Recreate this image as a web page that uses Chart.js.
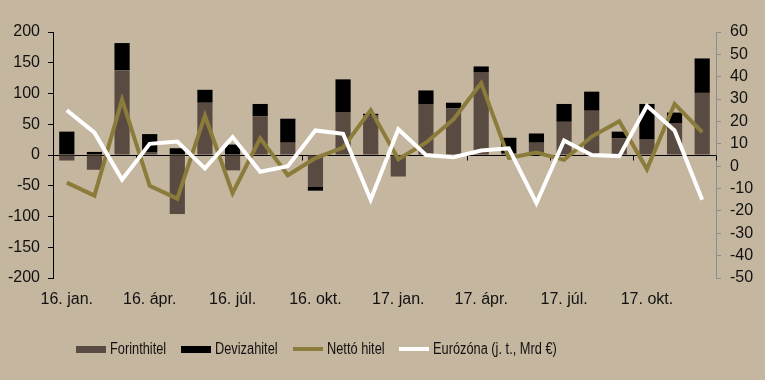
<!DOCTYPE html>
<html><head><meta charset="utf-8">
<script src="https://cdn.jsdelivr.net/npm/chart.js@4"></script>
<style>
html,body{margin:0;padding:0;background:#c5b69f;}
#wrap{position:relative;width:765px;height:380px;overflow:hidden;}
canvas{position:absolute;left:0;top:0;}
#legend{position:absolute;left:76px;top:340px;display:flex;align-items:center;font-size:16px;font-family:"Liberation Sans",Arial,sans-serif;color:#111;white-space:nowrap;line-height:18px;}
.item{display:flex;align-items:center;margin-right:15px;}
.sw{width:30px;margin-right:4px;}
.tx{display:inline-block;overflow:visible;}
.tx span{display:inline-block;transform-origin:0 50%;}
</style></head>
<body><div id="wrap"><canvas id="c" width="765" height="380"></canvas><div id="legend"></div></div>
<script>
const categories = ['16. jan.','16. febr.','16. márc.','16. ápr.','16. máj.','16. jún.','16. júl.','16. aug.','16. szept.','16. okt.','16. nov.','16. dec.',
                    '17. jan.','17. febr.','17. márc.','17. ápr.','17. máj.','17. jún.','17. júl.','17. aug.','17. szept.','17. okt.','17. nov.','17. dec.'];
const forinthitel = [-9, -24, 138, 4, -96, 85, -25, 63, 20, -52, 69, 65, -35, 82, 76, 134, 3, 20, 54, 72, 27, 25, 52, 101];
const devizahitel = [38, 5, 44, 30, 11, 21, 17, 20, 39, -6, 54, 2, 0, 23, 9, 10, 25, 15, 29, 31, 11, 58, 17, 56];
const nettoHitel  = [-45, -66, 90, -50, -71, 64, -62, 27, -33, -5, 12, 73, -7, 20, 58, 117, -5, 4, -8, 30, 55, -23, 83, 37];
const eurozona    = [25, 15, -6, 10, 11, -1, 13, -2.5, 0, 16, 14.5, -15, 16.5, 5, 4, 7, 8, -16.5, 11.5, 5, 4.5, 27, 16, -15];
const leftTicks = {min:-200, max:200, step:50};
const rightTicks = {min:-50, max:60, step:10};

const seriesNames = ['Forinthitel','Devizahitel','Nettó hitel','Eurózóna (j. t., Mrd €)'];
const colors = ['#5a4b42','#000000','#8b7c3b','#ffffff'];

Chart.defaults.font.family = '"Liberation Sans", Arial, sans-serif';
Chart.defaults.font.size = 16;
Chart.defaults.color = '#111';

const zeroLine = {
  id:'zeroLine',
  beforeDatasetsDraw(chart){
    const {ctx, chartArea, scales:{x, y}} = chart;
    const y0 = Math.round(y.getPixelForValue(0)) + 0.5;
    ctx.save();
    ctx.strokeStyle = '#000'; ctx.lineWidth = 1;
    ctx.beginPath();
    ctx.moveTo(chartArea.left, y0); ctx.lineTo(chartArea.right, y0);
    for (let i = 0; i <= categories.length; i += 3) {
      const px = Math.round(x.getPixelForValue(i - 0.5)) + 0.5;
      ctx.moveTo(px, y0); ctx.lineTo(px, y0 + 5);
    }
    ctx.stroke();
    ctx.restore();
  }
};

new Chart(document.getElementById('c'), {
  type:'bar',
  data:{
    labels: categories,
    datasets:[
      {type:'bar', label:seriesNames[0], data:forinthitel, backgroundColor:colors[0], stack:'s', yAxisID:'y', order:2, barPercentage:0.55, categoryPercentage:1},
      {type:'bar', label:seriesNames[1], data:devizahitel, backgroundColor:colors[1], stack:'s', yAxisID:'y', order:2, barPercentage:0.55, categoryPercentage:1},
      {type:'line', label:seriesNames[2], data:nettoHitel, borderColor:colors[2], backgroundColor:colors[2], borderWidth:4, pointRadius:0, tension:0, stack:'n', yAxisID:'y', order:1},
      {type:'line', label:seriesNames[3], data:eurozona, borderColor:colors[3], backgroundColor:colors[3], borderWidth:4, pointRadius:0, tension:0, yAxisID:'y2', order:0}
    ]
  },
  options:{
    responsive:false, animation:false,
    layout:{padding:{top:32, left:0, right:0, bottom:0}},
    plugins:{legend:{display:false}, tooltip:{enabled:false}},
    scales:{
      x:{stacked:true, grid:{display:false, drawTicks:false}, border:{display:false},
         ticks:{autoSkip:false, maxRotation:0, minRotation:0, padding:12,
                callback:(v,i)=> i % 3 === 0 ? categories[i] : ''},
         afterFit:s=>{s.height = 102;}},
      y:{stacked:true, position:'left', min:leftTicks.min, max:leftTicks.max,
         ticks:{stepSize:leftTicks.step, padding:8, color:'#111'},
         grid:{drawOnChartArea:false, tickLength:5, color:'#000'},
         border:{color:'#000'},
         afterFit:s=>{s.width = 53;}},
      y2:{position:'right', min:rightTicks.min, max:rightTicks.max,
         ticks:{stepSize:rightTicks.step, padding:9, color:'#111'},
         grid:{drawOnChartArea:false, tickLength:5, color:'#8c8c8c'},
         border:{color:'#8c8c8c'},
         afterFit:s=>{s.width = 49;}}
    }
  },
  plugins:[zeroLine]
});

const lg = document.getElementById('legend');
const squeeze = 0.8;
seriesNames.forEach((n, i) => {
  const it = document.createElement('div'); it.className = 'item';
  const sw = document.createElement('div'); sw.className = 'sw';
  sw.style.background = colors[i];
  sw.style.height = i < 2 ? '7px' : '4px';
  const tx = document.createElement('span'); tx.className = 'tx';
  const inner = document.createElement('span'); inner.textContent = n;
  tx.appendChild(inner);
  it.appendChild(sw); it.appendChild(tx); lg.appendChild(it);
  const w = inner.getBoundingClientRect().width;
  inner.style.transform = 'scaleX(' + squeeze + ')';
  tx.style.width = (w * squeeze) + 'px';
});
</script>
</body></html>
